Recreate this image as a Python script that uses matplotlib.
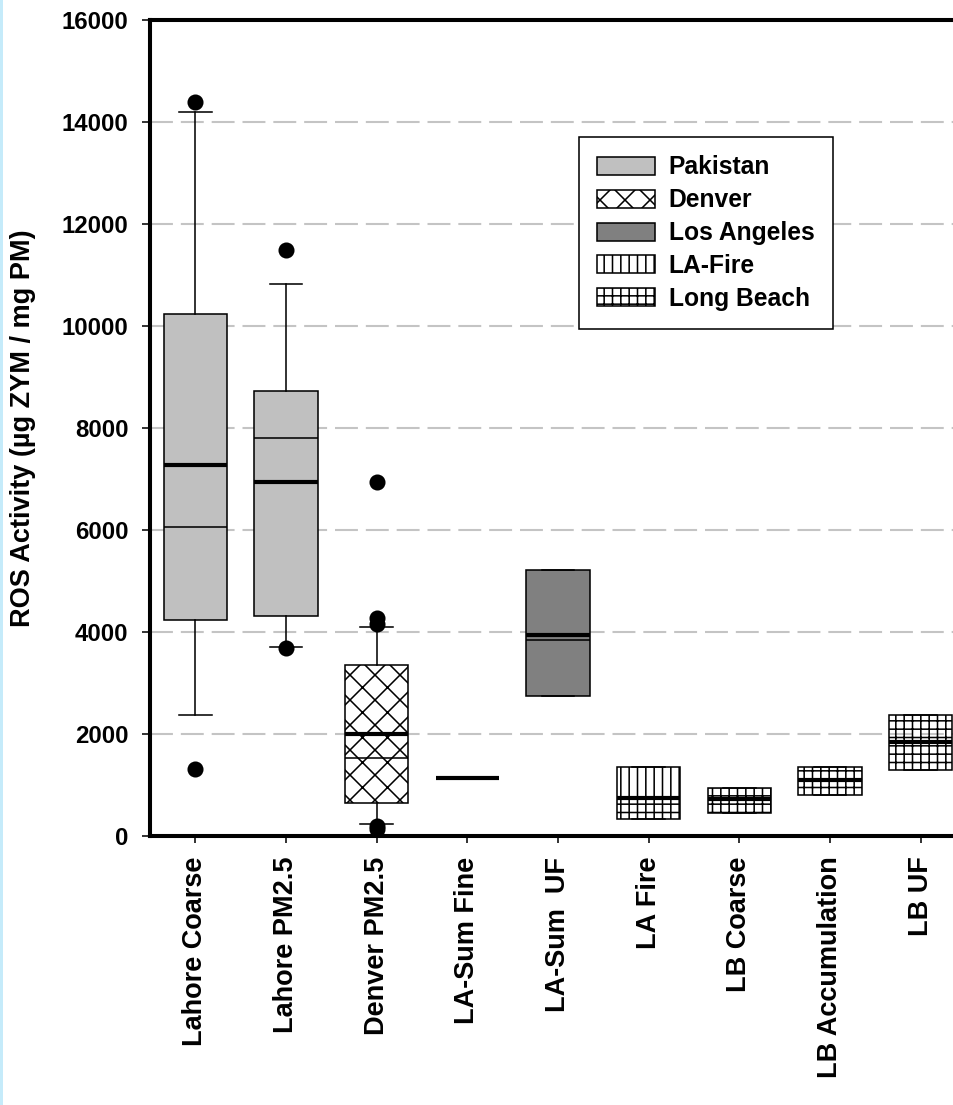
import matplotlib
matplotlib.use("Agg")
import matplotlib.pyplot as plt
from matplotlib.patches import Patch, Rectangle

# ---- data -------------------------------------------------------------
categories = ["Lahore Coarse", "Lahore PM2.5", "Denver PM2.5", "LA-Sum Fine",
              "LA-Sum  UF", "LA Fire", "LB Coarse", "LB Accumulation", "LB UF"]
groups = ["Pakistan", "Pakistan", "Denver", "Los Angeles", "Los Angeles",
          "LA-Fire", "Long Beach", "Long Beach", "Long Beach"]
whisker_low = [2370, 3700, 240, 1130, 2745, 330, 445, 800, 1300]
q1 = [4230, 4320, 640, 1130, 2745, 330, 445, 800, 1300]
medians = [6060, 7800, 1520, 1130, 3840, 750, 725, 1100, 1840]
means = [7270, 6950, 2000, 1130, 3950, 750, 725, 1100, 1840]
q3 = [10240, 8730, 3350, 1130, 5210, 1350, 935, 1360, 2370]
whisker_high = [14200, 10820, 4100, 1130, 5210, 1350, 935, 1360, 2370]
outliers = [[14400, 1320], [11500, 3690], [6950, 4270, 4150, 190, 130],
            [], [], [], [], [], []]

legend_groups = ["Pakistan", "Denver", "Los Angeles", "LA-Fire", "Long Beach"]
group_face = {"Pakistan": "#c0c0c0", "Denver": "none", "Los Angeles": "#808080",
              "LA-Fire": "none", "Long Beach": "none"}
group_hatch = {"Pakistan": "", "Denver": "xx", "Los Angeles": "",
               "LA-Fire": "|||", "Long Beach": "+++"}

y_ticks = [0, 2000, 4000, 6000, 8000, 10000, 12000, 14000, 16000]

# ---- style ------------------------------------------------------------
DPI = 150
plt.rcParams["font.family"] = ["Liberation Sans", "DejaVu Sans"]
plt.rcParams["font.weight"] = "bold"
plt.rcParams["hatch.linewidth"] = 0.75
plt.rcParams["lines.scale_dashes"] = False

fig = plt.figure(figsize=(953 / DPI, 1105 / DPI), dpi=DPI)
ax = fig.add_axes([150 / 953, 1 - 836 / 1105, 816 / 953, 816 / 1105])

# thin coloured strip on the left margin
fig.add_artist(Rectangle((0, 0), 2.5 / 953, 1, transform=fig.transFigure,
                         facecolor="#c5ebfa", edgecolor="none", zorder=0))

positions = list(range(1, len(categories) + 1))
stats = []
for i, name in enumerate(categories):
    stats.append(dict(label=name, whislo=whisker_low[i], q1=q1[i], med=medians[i],
                      mean=means[i], q3=q3[i], whishi=whisker_high[i],
                      fliers=outliers[i]))

lw = 0.75
bp = ax.bxp(stats, positions=positions, widths=0.7, capwidths=0.36,
            patch_artist=True, showmeans=True, meanline=True, showfliers=True,
            boxprops=dict(linewidth=lw, edgecolor="black"),
            whiskerprops=dict(linewidth=lw, color="black"),
            capprops=dict(linewidth=lw, color="black"),
            medianprops=dict(linewidth=lw, color="black"),
            meanprops=dict(linewidth=2.0, color="black", linestyle="-"),
            flierprops=dict(marker="o", markerfacecolor="black",
                            markeredgecolor="black", markersize=6.7))

for box, g in zip(bp["boxes"], groups):
    box.set_facecolor(group_face[g])
    box.set_hatch(group_hatch[g])

# the lower half of the fire box carries an extra horizontal hatch
for i, g in enumerate(groups):
    if g == "LA-Fire":
        ax.add_patch(Rectangle((positions[i] - 0.35, q1[i]), 0.7, medians[i] - q1[i],
                               fill=False, hatch="---", edgecolor="black",
                               linewidth=0, zorder=1.9))

ax.set_xlim(0.5, 9.5)
ax.set_ylim(0, 16000)
ax.set_yticks(y_ticks)
ax.set_yticklabels([str(t) for t in y_ticks])
ax.set_xticks(positions)
ax.set_xticklabels(categories, rotation=90, fontsize=13, fontweight="bold")

ax.set_axisbelow(True)
ax.yaxis.grid(True, color="#c4c4c4", linewidth=1.0, linestyle=(0, (11, 3.8)))
ax.xaxis.grid(False)

for side in ["left", "top", "bottom", "right"]:
    ax.spines[side].set_linewidth(1.95)
    ax.spines[side].set_color("black")

ax.tick_params(axis="y", length=3.8, width=0.75, pad=6.5, labelsize=11.5)
ax.tick_params(axis="x", length=3.4, width=0.75, pad=6.5)

ax.set_ylabel("ROS Activity (µg ZYM / mg PM)", fontsize=13, fontweight="bold")
ax.yaxis.set_label_coords(-0.1397, 0.5)

handles = [Patch(facecolor=group_face[g], hatch=group_hatch[g], edgecolor="black",
                 linewidth=lw) for g in legend_groups]
leg = ax.legend(handles, legend_groups, loc="upper left",
                bbox_to_anchor=(579 / 953, 1 - 137 / 1105),
                bbox_transform=fig.transFigure, fontsize=11.8,
                frameon=True, fancybox=False, framealpha=1, edgecolor="black",
                borderpad=0.75, handlelength=2.33, handleheight=0.75,
                handletextpad=0.57, labelspacing=0.36, borderaxespad=0)
leg.get_frame().set_linewidth(lw)

fig.savefig("out.png", dpi=DPI)
